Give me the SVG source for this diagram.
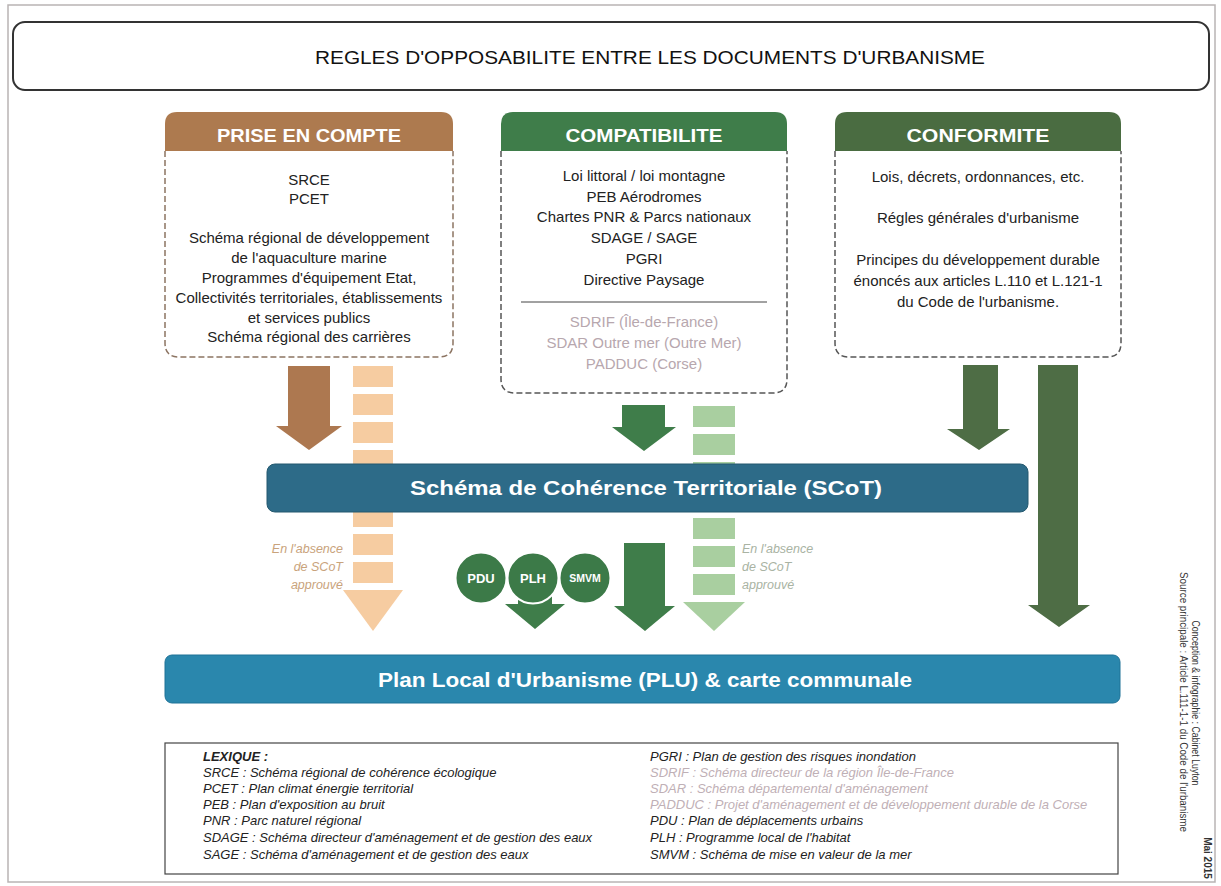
<svg xmlns="http://www.w3.org/2000/svg" width="1221" height="886" viewBox="0 0 1221 886">
<style>
text{font-family:"Liberation Sans",Arial,sans-serif}
.body{font-size:15px;fill:#222;text-anchor:middle}
.gray{font-size:15px;fill:#b7a7ae;text-anchor:middle}
.hdr{font-size:18px;font-weight:bold;fill:#fff;text-anchor:middle}
.lex{font-size:13px;font-style:italic;fill:#222}
.lexg{font-size:13px;font-style:italic;fill:#bfb0b6}
.abs{font-size:12.5px;font-style:italic}
.circ{font-weight:bold;fill:#fff;text-anchor:middle}
.cred{font-size:10px;fill:#333;text-anchor:middle}
.dash{fill:none;stroke-width:1.5;stroke-dasharray:6 3}
</style>
<rect x="8" y="5" width="1207" height="877" fill="#fff" stroke="#b9b4b4" stroke-width="1.5"/>

<g id="title">
<rect x="13" y="22" width="1196" height="68" rx="12" fill="#fff" stroke="#333" stroke-width="2"/>
<text x="650" y="64" text-anchor="middle" font-size="19" fill="#111" textLength="670" lengthAdjust="spacingAndGlyphs">REGLES D'OPPOSABILITE ENTRE LES DOCUMENTS D'URBANISME</text>
</g>

<g id="prise-en-compte">
<path d="M165,151 V124 Q165,112 177,112 H441 Q453,112 453,124 V151 Z" fill="#ad7a4f"/>
<path class="dash" stroke="#8c7462" d="M165,151 V343 Q165,357 179,357 H439 Q453,357 453,343 V151"/>
<text class="hdr" x="309" y="142" textLength="184" lengthAdjust="spacingAndGlyphs">PRISE EN COMPTE</text>
<text class="body" x="309" y="185">SRCE</text>
<text class="body" x="309" y="204">PCET</text>
<text class="body" x="309" y="243">Schéma régional de développement</text>
<text class="body" x="309" y="263">de l'aquaculture marine</text>
<text class="body" x="309" y="283">Programmes d'équipement Etat,</text>
<text class="body" x="309" y="303">Collectivités territoriales, établissements</text>
<text class="body" x="309" y="323">et services publics</text>
<text class="body" x="309" y="342">Schéma régional des carrières</text>
</g>

<g id="compatibilite">
<path d="M501,151 V124 Q501,112 513,112 H775 Q787,112 787,124 V151 Z" fill="#3f7d4a"/>
<path class="dash" stroke="#555" d="M501,151 V379 Q501,393 515,393 H773 Q787,393 787,379 V151"/>
<text class="hdr" x="644" y="142" textLength="157" lengthAdjust="spacingAndGlyphs">COMPATIBILITE</text>
<text class="body" x="644" y="181">Loi littoral / loi montagne</text>
<text class="body" x="644" y="202">PEB Aérodromes</text>
<text class="body" x="644" y="222">Chartes PNR &amp; Parcs nationaux</text>
<text class="body" x="644" y="243">SDAGE / SAGE</text>
<text class="body" x="644" y="264">PGRI</text>
<text class="body" x="644" y="285">Directive Paysage</text>
<line x1="521" y1="302" x2="767" y2="302" stroke="#444" stroke-width="1"/>
<text class="gray" x="644" y="327">SDRIF (Île-de-France)</text>
<text class="gray" x="644" y="348">SDAR Outre mer (Outre Mer)</text>
<text class="gray" x="644" y="369">PADDUC (Corse)</text>
</g>

<g id="conformite">
<path d="M835,151 V124 Q835,112 847,112 H1109 Q1121,112 1121,124 V151 Z" fill="#4a6c41"/>
<path class="dash" stroke="#555" d="M835,151 V343 Q835,357 849,357 H1107 Q1121,357 1121,343 V151"/>
<text class="hdr" x="978" y="142" textLength="143" lengthAdjust="spacingAndGlyphs">CONFORMITE</text>
<text class="body" x="978" y="182" font-size="15.5">Lois, décrets, ordonnances, etc.</text>
<text class="body" x="978" y="223" font-size="15.5">Régles générales d'urbanisme</text>
<text class="body" x="978" y="265" font-size="15.5">Principes du développement durable</text>
<text class="body" x="978" y="286" font-size="15.5">énoncés aux articles L.110 et L.121-1</text>
<text class="body" x="978" y="307" font-size="15.5">du Code de l'urbanisme.</text>
</g>

<g id="connectors">
<path d="M288,366 H330 V426 H342 L309,450 L276,426 H288 Z" fill="#ad7850"/>
<g fill="#f6cca1">
<rect x="353" y="366" width="40" height="21"/>
<rect x="353" y="394" width="40" height="21"/>
<rect x="353" y="422" width="40" height="21"/>
<rect x="353" y="450" width="40" height="21"/>
<rect x="353" y="478" width="40" height="21"/>
<rect x="353" y="506" width="40" height="21"/>
<rect x="353" y="534" width="40" height="21"/>
<rect x="353" y="562" width="40" height="21"/>
<path d="M343,590 H403 L373,631 Z"/>
</g>
<path d="M622,405 H665 V427 H676 L644,451 L612,427 H622 Z" fill="#3f7d4a"/>
<g fill="#a9cfa0">
<rect x="693" y="406" width="42" height="21"/>
<rect x="693" y="434" width="42" height="21"/>
<rect x="693" y="462" width="42" height="21"/>
<rect x="693" y="490" width="42" height="21"/>
<rect x="693" y="518" width="42" height="21"/>
<rect x="693" y="546" width="42" height="21"/>
<rect x="693" y="574" width="42" height="21"/>
<path d="M683,602 H745 L714,631 Z"/>
</g>
<path d="M963,365 H998 V429 H1010 L979,450 L947,429 H963 Z" fill="#4e6d45"/>
<path d="M1038,365 H1078 V605 H1090 L1059,627 L1028,605 H1038 Z" fill="#4e6d45"/>
<path d="M624,543 H665 V606 H675 L645,631 L614,606 H624 Z" fill="#3f7d4a"/>
<path d="M518,592 H552 V604 H565 L535,629 L505,604 H518 Z" fill="#3f7d4a"/>
</g>

<g id="absence-left">
<text class="abs" x="343" y="553" text-anchor="end" fill="#c9a37c">En l'absence</text>
<text class="abs" x="343" y="571" text-anchor="end" fill="#c9a37c">de SCoT</text>
<text class="abs" x="343" y="589" text-anchor="end" fill="#c9a37c">approuvé</text>
</g>
<g id="absence-right">
<text class="abs" x="742" y="553" fill="#a9b3a3">En l'absence</text>
<text class="abs" x="742" y="571" fill="#a9b3a3">de SCoT</text>
<text class="abs" x="742" y="589" fill="#a9b3a3">approuvé</text>
</g>

<g id="scot">
<rect x="267" y="464" width="761" height="48" rx="8" fill="#2d6b88" stroke="#24596f" stroke-width="1"/>
<text x="646" y="495" text-anchor="middle" font-size="20" font-weight="bold" fill="#fff" textLength="472" lengthAdjust="spacingAndGlyphs">Schéma de Cohérence Territoriale (SCoT)</text>
</g>

<g id="pdu">
<circle cx="481" cy="578" r="25.5" fill="#3c7a48" stroke="#fff" stroke-width="2"/>
<text class="circ" x="481" y="583" font-size="13">PDU</text>
</g>
<g id="plh">
<circle cx="533" cy="578" r="25.5" fill="#3c7a48" stroke="#fff" stroke-width="2"/>
<text class="circ" x="533" y="583" font-size="13">PLH</text>
</g>
<g id="smvm">
<circle cx="585" cy="578" r="25.5" fill="#3c7a48" stroke="#fff" stroke-width="2"/>
<text class="circ" x="585" y="582" font-size="10.5">SMVM</text>
</g>

<g id="plu">
<rect x="165" y="655" width="955" height="48" rx="7" fill="#2a87ad" stroke="#1f7297" stroke-width="1"/>
<text x="645" y="687" text-anchor="middle" font-size="20" font-weight="bold" fill="#fff" textLength="534" lengthAdjust="spacingAndGlyphs">Plan Local d'Urbanisme (PLU) &amp; carte communale</text>
</g>

<g id="lexique">
<rect x="165" y="743" width="953" height="131" fill="#fff" stroke="#444" stroke-width="1.2"/>
<text class="lex" x="203" y="761" font-weight="bold">LEXIQUE :</text>
<text class="lex" x="203" y="777">SRCE : Schéma régional de cohérence écologique</text>
<text class="lex" x="203" y="793">PCET : Plan climat énergie territorial</text>
<text class="lex" x="203" y="809">PEB : Plan d'exposition au bruit</text>
<text class="lex" x="203" y="825">PNR : Parc naturel régional</text>
<text class="lex" x="203" y="842">SDAGE : Schéma directeur d'aménagement et de gestion des eaux</text>
<text class="lex" x="203" y="859">SAGE : Schéma d'aménagement et de gestion des eaux</text>
<text class="lex" x="650" y="761">PGRI : Plan de gestion des risques inondation</text>
<text class="lexg" x="650" y="777">SDRIF : Schéma directeur de la région Île-de-France</text>
<text class="lexg" x="650" y="793">SDAR : Schéma départemental d'aménagement</text>
<text class="lexg" x="650" y="809">PADDUC : Projet d'aménagement et de développement durable de la Corse</text>
<text class="lex" x="650" y="825">PDU : Plan de déplacements urbains</text>
<text class="lex" x="650" y="842">PLH : Programme local de l'habitat</text>
<text class="lex" x="650" y="859">SMVM : Schéma de mise en valeur de la mer</text>
</g>

<g id="credits">
<text class="cred" transform="translate(1183,702) rotate(90)" y="3.5" textLength="260" lengthAdjust="spacingAndGlyphs">Source principale : Article L.111-1-1 du Code de l'urbanisme</text>
<text class="cred" transform="translate(1195,703) rotate(90)" y="3.5" textLength="165" lengthAdjust="spacingAndGlyphs">Conception &amp; infographie : Cabinet Luyton</text>
<text class="cred" transform="translate(1207,858) rotate(90)" y="3.5" font-weight="bold">Mai 2015</text>
</g>
</svg>
